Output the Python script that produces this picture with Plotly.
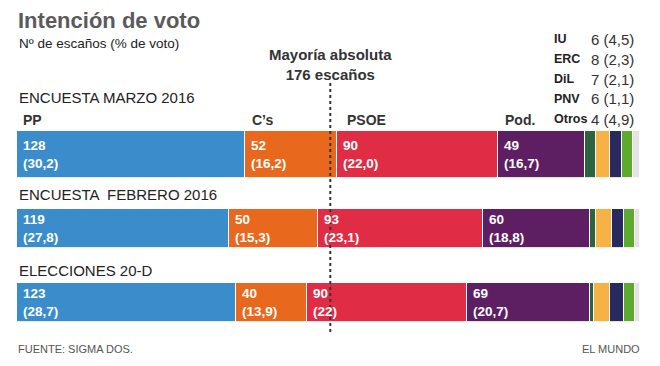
import plotly.graph_objects as go

# ---------------- data ----------------
surveys = ["ENCUESTA MARZO 2016", "ENCUESTA  FEBRERO 2016", "ELECCIONES 20-D"]
parties = ["PP", "C’s", "PSOE", "Pod.", "IU", "ERC", "DiL", "PNV", "Otros"]
seats_marzo = [128, 52, 90, 49, 6, 8, 7, 6, 4]
seats_febrero = [119, 50, 93, 60, 3, 9, 7, 6, 3]
seats_20d = [123, 40, 90, 69, 2, 9, 8, 6, 3]
pct_marzo = ["30,2", "16,2", "22,0", "16,7"]
pct_febrero = ["27,8", "15,3", "23,1", "18,8"]
pct_20d = ["28,7", "13,9", "22", "20,7"]
legend_parties = ["IU", "ERC", "DiL", "PNV", "Otros"]
legend_seats = [6, 8, 7, 6, 4]
legend_pct = ["4,5", "2,3", "2,1", "1,1", "4,9"]
majority = 176

colors = ["#3A8DCA", "#E8691E", "#E02D45", "#5E1F62", "#2C6440",
          "#F6B244", "#28295E", "#5DAA2E", "#E4E4E4"]

seats = [seats_marzo, seats_febrero, seats_20d]
pcts = [pct_marzo, pct_febrero, pct_20d]
widths = [0.635, 0.54, 0.54]

W, H = 660, 366
FONT = "Liberation Sans, Arial, sans-serif"

fig = go.Figure()
for j, p in enumerate(parties):
    fig.add_trace(go.Bar(
        y=surveys, x=[s[j] for s in seats], orientation="h", width=widths,
        marker=dict(color=colors[j], line=dict(color="rgba(255,255,255,0.85)", width=1)),
        name=p, hoverinfo="x+name", showlegend=False,
    ))

ann = []
def px(x, y):
    return x / W, 1 - y / H

# value labels inside the big segments
for i, s in enumerate(seats):
    start = 0
    for j in range(4):
        for line, sh in ((str(s[j]), 9), (f"({pcts[i][j]})", -9)):
            ann.append(dict(x=start, y=surveys[i], xref="x", yref="y", xshift=4, yshift=sh,
                            text=f"<b>{line}</b>", showarrow=False,
                            xanchor="left", yanchor="middle",
                            font=dict(family=FONT, size=13.5, color="white")))
        start += s[j]

# party names above first bar
start = 0
offs = [4, 5, 8, 5]
for j in range(4):
    ann.append(dict(x=start, y=surveys[0], xref="x", yref="y", xshift=offs[j], yshift=35,
                    text=f"<b>{parties[j]}</b>", showarrow=False, xanchor="left",
                    yanchor="middle", font=dict(family=FONT, size=14, color="#333333")))
    start += seats_marzo[j]

# survey titles
shifts = [57, 34, 32]
for i, name in enumerate(surveys):
    ann.append(dict(x=0, y=name, xref="x", yref="y", yshift=shifts[i],
                    text=name, showarrow=False, xanchor="left", yanchor="middle",
                    font=dict(family=FONT, size=15, color="#222222")))

# title / subtitle
x0, y0 = px(16, 21)
ann.append(dict(x=x0, y=y0, xref="paper", yref="paper", text="<b>Intención de voto</b>",
                showarrow=False, xanchor="left", yanchor="middle",
                font=dict(family=FONT, size=22, color="#5A5A5A")))
x0, y0 = px(17, 43)
ann.append(dict(x=x0, y=y0, xref="paper", yref="paper", text="Nº de escaños (% de voto)",
                showarrow=False, xanchor="left", yanchor="middle",
                font=dict(family=FONT, size=13.5, color="#222222")))

# majority label
_, y0 = px(0, 65)
ann.append(dict(x=majority, y=y0, xref="x", yref="paper",
                text="<b>Mayoría absoluta<br>176 escaños</b>", showarrow=False,
                xanchor="center", yanchor="middle", align="center",
                font=dict(family=FONT, size=15, color="#333333")))

# right legend
for k, (lp, ls, lpc) in enumerate(zip(legend_parties, legend_seats, legend_pct)):
    xa, ya = px(552, 39 + 20 * k)
    ann.append(dict(x=xa, y=ya, xref="paper", yref="paper", text=f"<b>{lp}</b>",
                    showarrow=False, xanchor="left", yanchor="middle",
                    font=dict(family=FONT, size=12.5, color="#222222")))
    xb, _ = px(589, 0)
    ann.append(dict(x=xb, y=ya, xref="paper", yref="paper", text=f"{ls} ({lpc})",
                    showarrow=False, xanchor="left", yanchor="middle",
                    font=dict(family=FONT, size=15, color="#333333")))

# footer
x0, y0 = px(16, 349)
ann.append(dict(x=x0, y=y0, xref="paper", yref="paper", text="FUENTE: SIGMA DOS.",
                showarrow=False, xanchor="left", yanchor="middle",
                font=dict(family=FONT, size=11, color="#555555")))
x0, y0 = px(642, 349)
ann.append(dict(x=x0, y=y0, xref="paper", yref="paper", text="EL MUNDO",
                showarrow=False, xanchor="right", yanchor="middle",
                font=dict(family=FONT, size=11, color="#555555")))

# pixel-to-axis mapping
x_scale = (640 - 17) / 350.0
y_scale = 74.0
y_top = -154.5 / y_scale
y_bot = y_top + H / y_scale

fig.add_shape(type="line", xref="x", yref="y", x0=majority, x1=majority,
              y0=(83 - 154.5) / y_scale, y1=(334 - 154.5) / y_scale,
              line=dict(color="#333333", width=2, dash="dot"), layer="above")

fig.update_layout(
    width=W, height=H, margin=dict(l=0, r=0, t=0, b=0),
    paper_bgcolor="white", plot_bgcolor="white", barmode="stack",
    bargap=0, annotations=ann,
    xaxis=dict(range=[-17 / x_scale, (W - 17) / x_scale], visible=False, fixedrange=True),
    yaxis=dict(type="category", range=[y_bot, y_top], visible=False, fixedrange=True),
    font=dict(family=FONT),
)

fig.write_html("out.html", config={"displayModeBar": False},
               post_script="document.body.style.margin='0';document.body.style.padding='0';")
